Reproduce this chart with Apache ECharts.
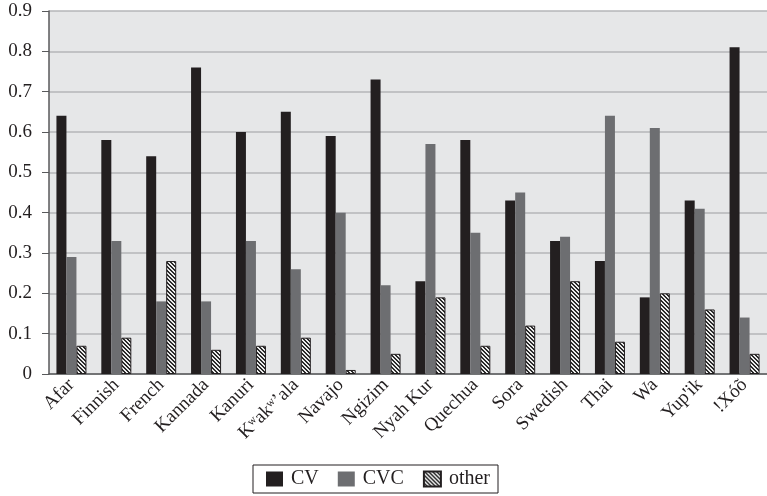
<!DOCTYPE html>
<html>
<head>
<meta charset="utf-8">
<script src="https://cdn.jsdelivr.net/npm/echarts@6/dist/echarts.min.js"></script>
<style>
html,body{margin:0;padding:0;background:#fff;}
#chart{width:767px;height:496px;}
</style>
</head>
<body>
<div id="chart"></div>
<script>
const categories = ["Afar","Finnish","French","Kannada","Kanuri","Kʷakʷʼala","Navajo","Ngizim","Nyah Kur","Quechua","Sora","Swedish","Thai","Wa","Yup'ik","!Xóõ"];
const cvValues    = [0.64,0.58,0.54,0.76,0.60,0.65,0.59,0.73,0.23,0.58,0.43,0.33,0.28,0.19,0.43,0.81];
const cvcValues   = [0.29,0.33,0.18,0.18,0.33,0.26,0.40,0.22,0.57,0.35,0.45,0.34,0.64,0.61,0.41,0.14];
const otherValues = [0.07,0.09,0.28,0.06,0.07,0.09,0.01,0.05,0.19,0.07,0.12,0.23,0.08,0.20,0.16,0.05];
const seriesNames = ["CV","CVC","other"];
const yTicks = ["0","0.1","0.2","0.3","0.4","0.5","0.6","0.7","0.8","0.9"];

function hatch(){
  const c = document.createElement('canvas');
  c.width = 4; c.height = 4;
  const ctx = c.getContext('2d');
  for (let x = 0; x < 4; x++) for (let y = 0; y < 4; y++) {
    ctx.fillStyle = ((x - y + 4) % 4 < 2) ? '#2a2a2a' : '#ececec';
    ctx.fillRect(x, y, 1, 1);
  }
  return {image: c, repeat: 'repeat'};
}

const font = "'Liberation Serif', 'DejaVu Serif', serif";
const chart = echarts.init(document.getElementById('chart'), null, {renderer: 'canvas'});
chart.setOption({
  animation: false,
  textStyle: {fontFamily: font},
  grid: {left: 49, right: 0, top: 11, bottom: 122, show: true, backgroundColor: '#e6e7e8', borderWidth: 0},
  legend: {
    data: seriesNames,
    left: 253, top: 465,
    padding: [4, 8, 4, 13],
    borderColor: '#231f20', borderWidth: 1,
    itemWidth: 17, itemHeight: 15, itemGap: 19,
    icon: 'rect',
    textStyle: {fontFamily: font, fontSize: 20, color: '#231f20', padding: [0, 0, 0, 3]}
  },
  xAxis: {
    type: 'category',
    data: categories,
    axisLine: {lineStyle: {color: '#58595b', width: 1.5}},
    axisTick: {show: false},
    axisLabel: {rotate: 45, interval: 0, margin: 8, fontFamily: font, fontSize: 19, color: '#231f20'}
  },
  yAxis: {
    type: 'value',
    min: 0, max: 0.9, interval: 0.1,
    axisLine: {show: true, lineStyle: {color: '#58595b', width: 1.5}},
    axisTick: {show: true, length: 7, lineStyle: {color: '#58595b'}},
    splitLine: {lineStyle: {color: '#b5b6b8', width: 1.5}},
    axisLabel: {margin: 17, fontFamily: font, fontSize: 19, color: '#231f20',
      formatter: function(v){ return yTicks[Math.round(v*10)]; }}
  },
  series: [
    {name: seriesNames[0], type: 'bar', data: cvValues, barWidth: 10, barGap: '0%',
     itemStyle: {color: '#231f20'}},
    {name: seriesNames[1], type: 'bar', data: cvcValues, barWidth: 10, barGap: '0%',
     itemStyle: {color: '#6d6e71'}},
    {name: seriesNames[2], type: 'bar', data: otherValues, barWidth: 10, barGap: '0%',
     itemStyle: {color: hatch(), borderColor: '#231f20', borderWidth: 1}}
  ]
});
</script>
</body>
</html>
